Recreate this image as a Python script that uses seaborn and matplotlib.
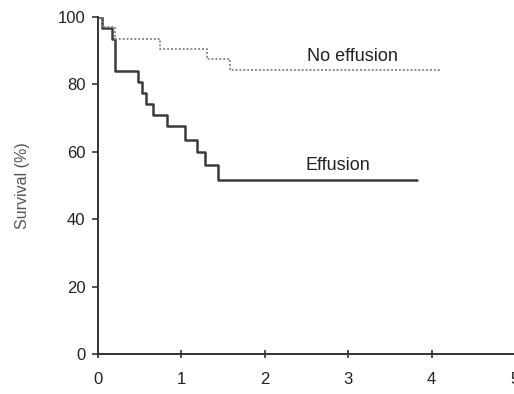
import matplotlib
matplotlib.use("Agg")
import matplotlib.pyplot as plt
import seaborn as sns
import pandas as pd

# Kaplan-Meier step data (years, % surviving)
effusion_time = [0, 0.05, 0.17, 0.20, 0.48, 0.53, 0.57, 0.66, 0.83, 1.04, 1.19, 1.28, 1.44]
effusion_surv = [100, 96.8, 93.5, 83.9, 80.6, 77.4, 74.2, 71.0, 67.7, 63.5, 60.0, 56.0, 51.6]
effusion_end = 3.83

no_effusion_time = [0, 0.05, 0.20, 0.74, 1.31, 1.58]
no_effusion_surv = [100, 97.0, 93.5, 90.5, 87.5, 84.3]
no_effusion_end = 4.10

x_ticks = [0, 1, 2, 3, 4, 5]
y_ticks = [0, 20, 40, 60, 80, 100]


def step_frame(times, surv, end, group):
    t = list(times) + [end]
    s = list(surv) + [surv[-1]]
    return pd.DataFrame({"time": t, "survival": s, "group": group})


df = pd.concat([
    step_frame(effusion_time, effusion_surv, effusion_end, "Effusion"),
    step_frame(no_effusion_time, no_effusion_surv, no_effusion_end, "No effusion"),
], ignore_index=True)

sns.set_style("white")
plt.rcParams["font.family"] = ["Liberation Sans", "DejaVu Sans"]

fig = plt.figure(figsize=(5.14, 3.94), dpi=100)
ax = fig.add_axes([98 / 514, 40 / 394, 417 / 514, 337 / 394])

sns.lineplot(data=df[df.group == "Effusion"], x="time", y="survival",
             drawstyle="steps-post", color="#3a3a3a", linewidth=1.8, ax=ax)
sns.lineplot(data=df[df.group == "No effusion"], x="time", y="survival",
             drawstyle="steps-post", color="#8a8a8a", linewidth=1.4,
             linestyle=(0, (1, 1)), ax=ax)

ax.text(3.05, 88.4, "No effusion", fontsize=13, ha="center", va="center", color="#222222")
ax.text(2.88, 56, "Effusion", fontsize=13, ha="center", va="center", color="#222222")

ax.set_xlim(0, 5)
ax.set_ylim(0, 100)
ax.set_xticks(x_ticks)
ax.set_yticks(y_ticks)
ax.set_xlabel("")
ax.set_ylabel("Survival (%)", fontsize=11.5, color="#555555", labelpad=20)

for side in ("top", "right"):
    ax.spines[side].set_visible(False)
for side in ("left", "bottom"):
    ax.spines[side].set_color("#333333")
    ax.spines[side].set_linewidth(1.4)

ax.tick_params(axis="y", direction="out", length=4, width=1.2, color="#333333",
               labelsize=12, pad=5, labelcolor="#222222")
ax.tick_params(axis="x", direction="inout", length=6, width=1.2, color="#333333",
               labelsize=12, pad=10, labelcolor="#222222")
ax.tick_params(left=True, bottom=True)

fig.savefig("out.png", dpi=100)
